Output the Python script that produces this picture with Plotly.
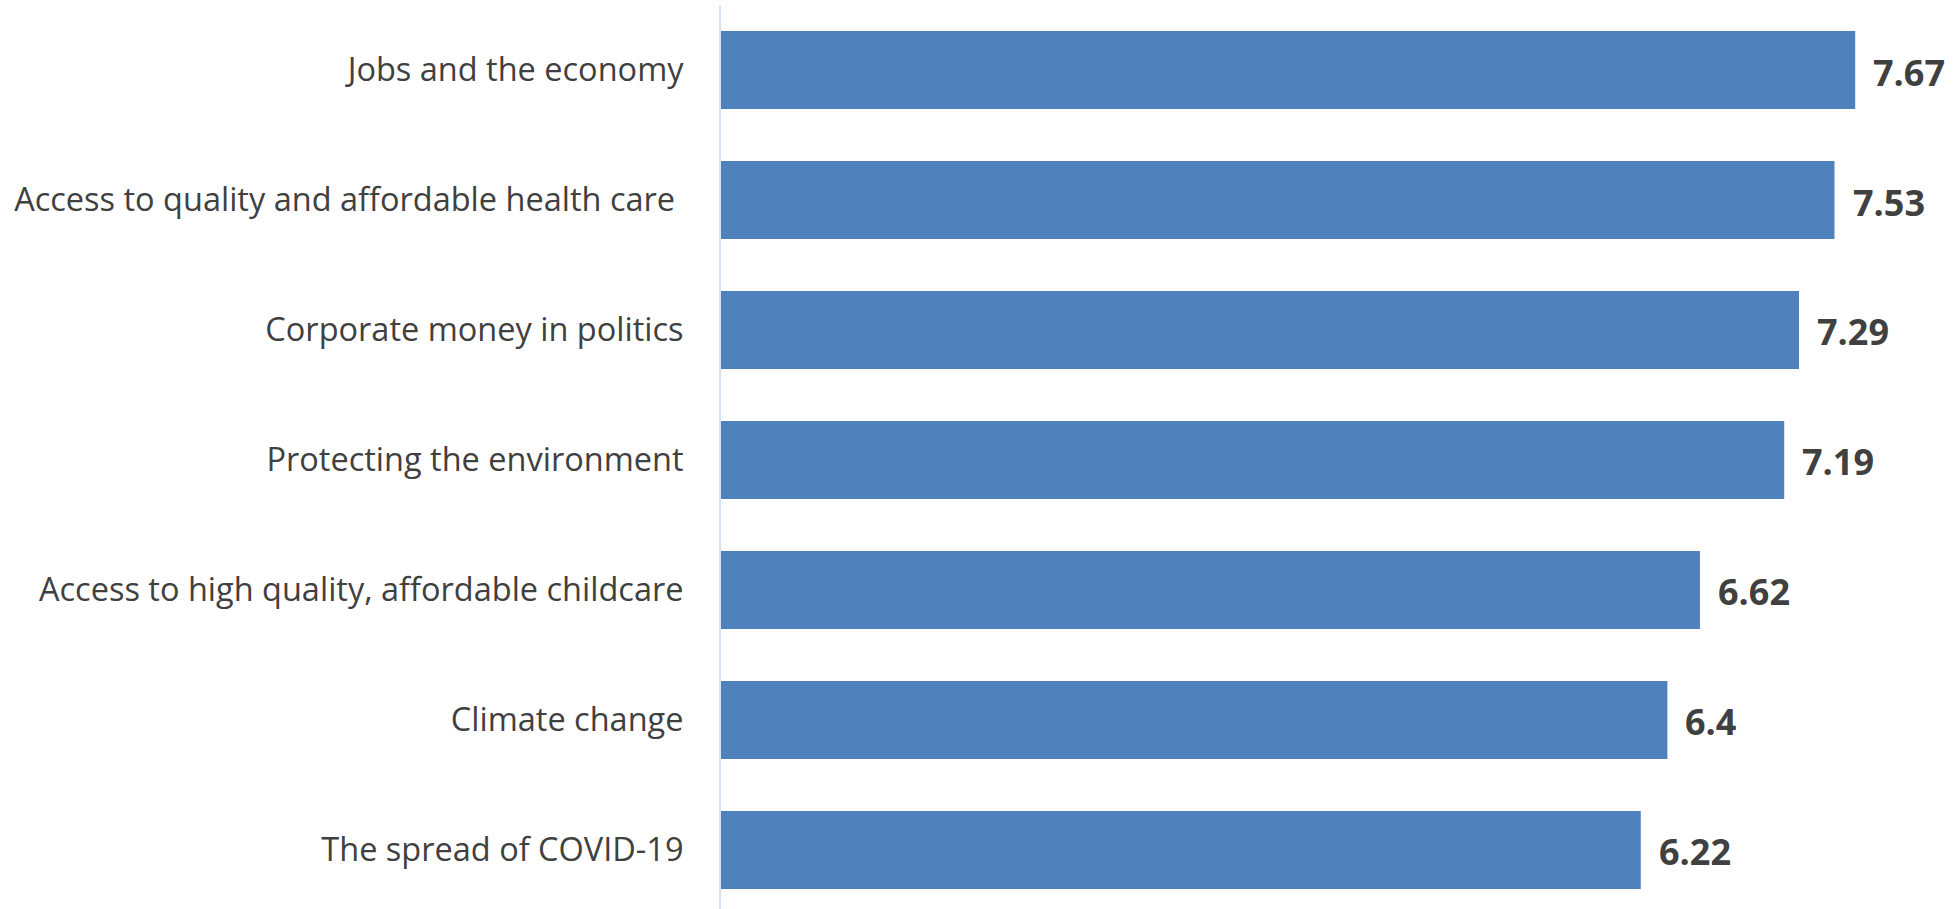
import plotly.graph_objects as go

# Issues, listed bottom to top so the highest score sits at the top
categories = [
    "The spread of COVID-19",
    "Climate change",
    "Access to high quality, affordable childcare",
    "Protecting the environment",
    "Corporate money in politics",
    "Access to quality and affordable health care ",
    "Jobs and the economy",
]
scores = [6.22, 6.4, 6.62, 7.19, 7.29, 7.53, 7.67]

BAR_COLOR = "#4f81bd"
TEXT_COLOR = "#404040"

fig = go.Figure(
    go.Bar(
        x=scores,
        y=categories,
        orientation="h",
        width=0.6,
        marker=dict(color=BAR_COLOR, line=dict(width=0)),
        hoverinfo="x+y",
    )
)

# Value labels just beyond the end of each bar
for cat, val in zip(categories, scores):
    fig.add_annotation(
        x=val,
        y=cat,
        text=f"<b>{val:g}</b>",
        showarrow=False,
        xanchor="left",
        xshift=16,
        yshift=-2,
        font=dict(family="Open Sans", size=36, color=TEXT_COLOR),
    )

fig.update_layout(
    width=1954,
    height=909,
    margin=dict(l=721, r=50, t=5, b=0),
    paper_bgcolor="white",
    plot_bgcolor="white",
    showlegend=False,
    bargap=0.4,
    xaxis=dict(
        range=[0, 8.0],
        showgrid=False,
        showticklabels=False,
        zeroline=False,
        showline=False,
        ticks="",
    ),
    yaxis=dict(
        type="category",
        categoryorder="array",
        categoryarray=categories,
        range=[-0.454, 6.5],
        showgrid=False,
        zeroline=False,
        showline=True,
        linecolor="#d6e2f3",
        linewidth=2,
        ticks="",
        ticklabelstandoff=29,
        tickfont=dict(family="Open Sans", size=32.5, color=TEXT_COLOR),
    ),
)

fig.write_html("out.html")
